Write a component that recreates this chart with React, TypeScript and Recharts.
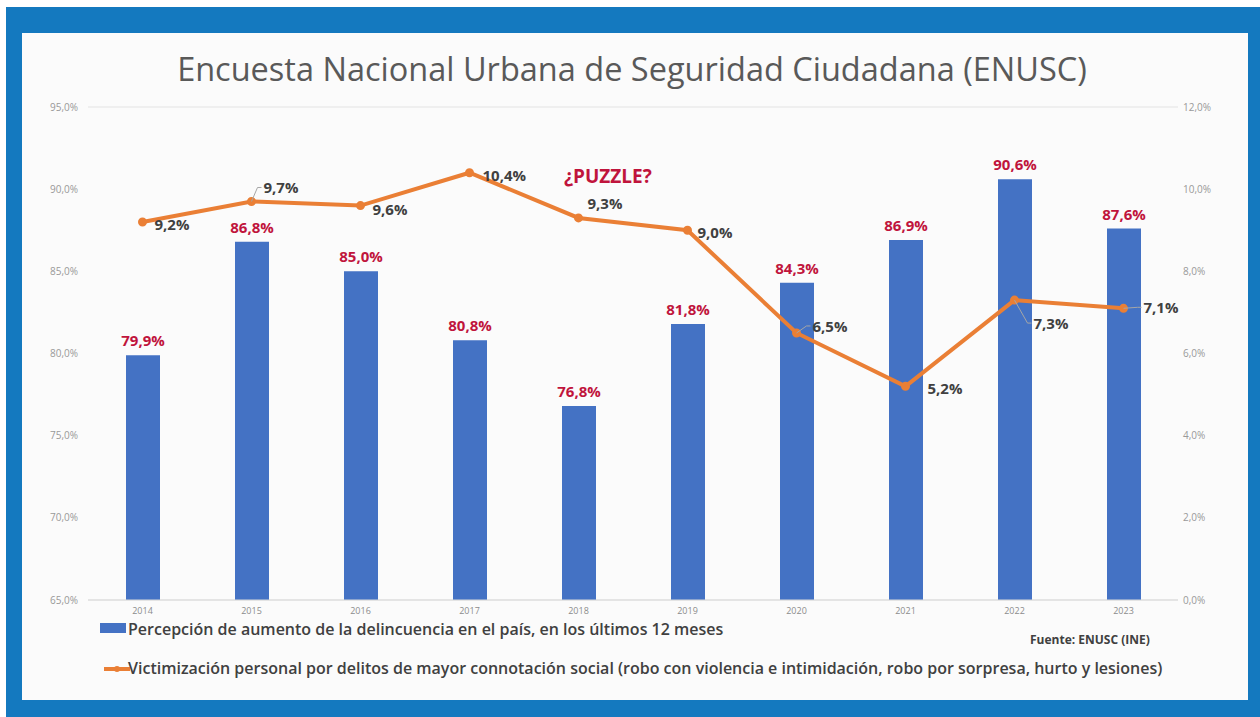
import { Bar, ComposedChart, CartesianGrid, LabelList, Line, XAxis, YAxis } from "recharts";

const years = ["2014", "2015", "2016", "2017", "2018", "2019", "2020", "2021", "2022", "2023"];
const percepcion = [79.9, 86.8, 85.0, 80.8, 76.8, 81.8, 84.3, 86.9, 90.6, 87.6];
const victimizacion = [9.2, 9.7, 9.6, 10.4, 9.3, 9.0, 6.5, 5.2, 7.3, 7.1];
const leftTicks = [65, 70, 75, 80, 85, 90, 95];
const rightTicks = [0, 2, 4, 6, 8, 10, 12];

// where each line label sits relative to its point: [dx, dy, leader]
const lineLabelPlace: [number, number, boolean][] = [
  [12, 2, false],
  [12, -14, true],
  [12, 3, false],
  [13, 2, false],
  [9, -15, false],
  [10, 2, false],
  [16, -7, true],
  [22, 2, false],
  [19, 23, true],
  [20, -1, true],
];

const data = years.map((y, i) => ({ year: y, percepcion: percepcion[i], victimizacion: victimizacion[i] }));

const fmt = (v: number) => v.toFixed(1).replace(".", ",") + "%";
const FONT = "'Open Sans', sans-serif";

function LineLabel(props: any) {
  const { x, y, index, value } = props;
  const [dx, dy, leader] = lineLabelPlace[index];
  return (
    <g>
      {leader && (
        <polyline
          points={`${x},${y} ${x + dx - 6},${y + dy} ${x + dx - 2},${y + dy}`}
          fill="none"
          stroke="#a6a6a6"
          strokeWidth={1}
        />
      )}
      <text x={x + dx} y={y + dy} dominantBaseline="central" fill="#404040" fontSize={15} fontWeight={700} fontFamily={FONT}>
        {fmt(value)}
      </text>
    </g>
  );
}

export default function App() {
  return (
    <div style={{ position: "fixed", left: 0, top: 0, width: 1260, height: 717, background: "#fff", fontFamily: FONT }}>
      <div style={{ position: "absolute", left: 6, top: 7, width: 1254, height: 710, background: "#1479bf" }} />
      <div style={{ position: "absolute", left: 22, top: 33, width: 1226, height: 667, background: "#fbfbfb" }} />
      <div style={{ position: "absolute", left: 0, top: 48, width: 1264, textAlign: "center", fontSize: 32.5, lineHeight: 1.3, color: "#595959" }}>
        Encuesta Nacional Urbana de Seguridad Ciudadana (ENUSC)
      </div>
      <div style={{ position: "absolute", left: 564, top: 163, fontSize: 19, fontWeight: 700, color: "#c0143c" }}>¿PUZZLE?</div>

      <div style={{ position: "absolute", left: 0, top: 0 }}>
        <ComposedChart width={1260} height={717} data={data} margin={{ top: 107, right: 22, bottom: 97, left: 28 }}>
          <CartesianGrid vertical={false} stroke="#e3e3e3" />
          <XAxis
            dataKey="year"
            axisLine={{ stroke: "#d9d9d9" }}
            tickLine={false}
            height={20}
            tick={{ fontSize: 9, fill: "#8c8c8c", fontFamily: FONT }}
            tickMargin={2}
          />
          <YAxis
            yAxisId="left"
            domain={[65, 95]}
            ticks={leftTicks}
            width={60}
            axisLine={false}
            tickLine={false}
            tickSize={0}
            tickMargin={10}
            tickFormatter={fmt}
            tick={{ fontSize: 10, fill: "#999999", fontFamily: FONT }}
          />
          <YAxis
            yAxisId="right"
            orientation="right"
            domain={[0, 12]}
            ticks={rightTicks}
            width={60}
            axisLine={false}
            tickLine={false}
            tickSize={0}
            tickMargin={5}
            tickFormatter={fmt}
            tick={{ fontSize: 10, fill: "#999999", fontFamily: FONT, textAnchor: "start" }}
          />
          <Bar yAxisId="left" dataKey="percepcion" fill="#4472c4" barSize={34} isAnimationActive={false}>
            <LabelList
              dataKey="percepcion"
              position="top"
              offset={9}
              formatter={(v: any) => fmt(v)}
              style={{ fill: "#c0143c", fontSize: 15, fontWeight: 700, fontFamily: FONT }}
            />
          </Bar>
          <Line
            yAxisId="right"
            dataKey="victimizacion"
            stroke="#ea7f35"
            strokeWidth={4}
            dot={{ r: 2.5, fill: "#ea7f35", stroke: "#ea7f35" }}
            isAnimationActive={false}
          >
            <LabelList dataKey="victimizacion" content={LineLabel} />
          </Line>
        </ComposedChart>
      </div>

      <div style={{ position: "absolute", left: 100, top: 623, width: 26, height: 10, background: "#4472c4" }} />
      <div style={{ position: "absolute", left: 128, top: 621, fontSize: 16, lineHeight: 1, fontWeight: 600, color: "#404040", whiteSpace: "nowrap" }}>
        Percepción de aumento de la delincuencia en el país, en los últimos 12 meses
      </div>
      <div style={{ position: "absolute", left: 1030, top: 633, fontSize: 12, lineHeight: 1.2, fontWeight: 700, color: "#404040" }}>Fuente: ENUSC (INE)</div>
      <svg style={{ position: "absolute", left: 104, top: 662 }} width={26} height={14}>
        <line x1={0} y1={7} x2={26} y2={7} stroke="#ea7f35" strokeWidth={4} />
        <circle cx={13} cy={7} r={3} fill="#ea7f35" />
      </svg>
      <div style={{ position: "absolute", left: 128, top: 660, fontSize: 16, lineHeight: 1, fontWeight: 600, color: "#404040", whiteSpace: "nowrap" }}>
        Victimización personal por delitos de mayor connotación social (robo con violencia e intimidación, robo por sorpresa, hurto y lesiones)
      </div>
    </div>
  );
}
